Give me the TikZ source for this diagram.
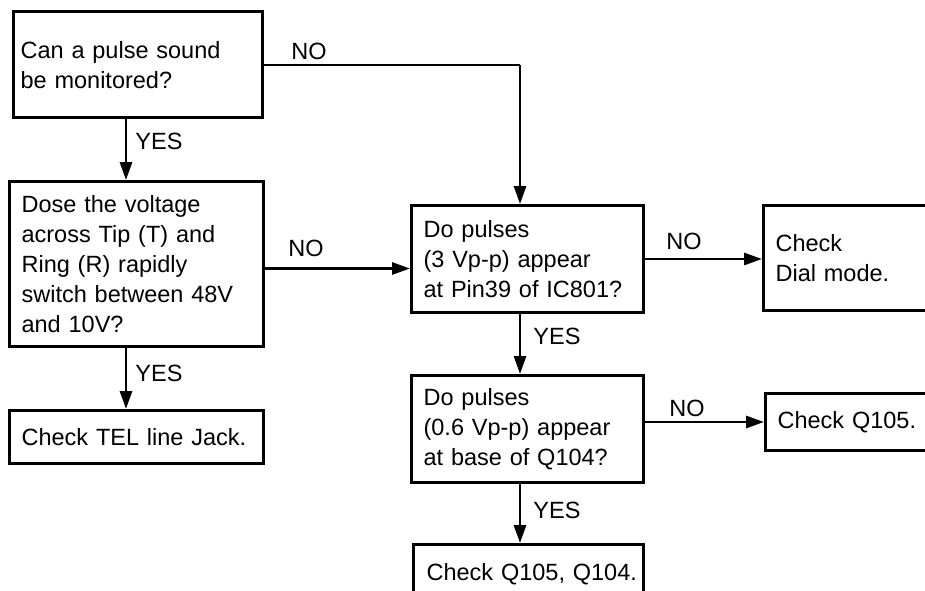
\documentclass[tikz,border=0pt]{standalone}
\usepackage{fontspec}
\setmainfont{Liberation Sans}
\usetikzlibrary{arrows.meta}
\begin{document}
\begin{tikzpicture}[x=1pt,y=-1pt,
  box/.style={draw, line width=3.2pt, align=left, anchor=north west, inner xsep=12pt, inner ysep=0pt, font=\fontsize{23.5}{30}\selectfont},
  lbl/.style={font=\fontsize{23.5}{30}\selectfont, inner sep=0pt},
  arr/.style={line width=2.9pt, -{Triangle[length=18pt,width=12pt]}},
  ln/.style={line width=2.9pt}]
\useasboundingbox (0,0) rectangle (925,590);
% boxes
\node[box, text width=235pt, inner xsep=7pt, minimum height=106pt] (B1) at (12,10) {Can a pulse sound\\be monitored?};
\node[box, text width=230pt, minimum height=165pt] (B2) at (8,180) {Dose the voltage\\across Tip (T) and\\Ring (R) rapidly\\switch between 48V\\and 10V?};
\node[box, text width=230pt, minimum height=53pt] (B3) at (8,409) {Check TEL line Jack.};
\node[box, text width=208pt, minimum height=107pt] (C1) at (410,204) {Do pulses\\(3 Vp-p) appear\\at Pin39 of IC801?};
\node[box, text width=156pt, minimum height=105pt] (D1) at (762,204) {Check\\Dial mode.};
\node[box, text width=208pt, minimum height=107pt] (C2) at (410,374) {Do pulses\\(0.6 Vp-p) appear\\at base of Q104?};
\node[box, text width=156pt, minimum height=57pt] (D2) at (764,392) {Check Q105.};
\node[box, text width=216pt, inner xsep=7pt, minimum height=60pt] (C3) at (412,543) {\hspace*{6pt}\mbox{Check Q105, Q104.}};
% helper coordinates
\coordinate (lx) at (126,0);
\coordinate (cx) at (520,0);
\coordinate (y1) at (0,65);
\coordinate (y2) at (0,268.5);
\coordinate (y3) at (0,259);
\coordinate (y4) at (0,422);
\coordinate (turn) at (cx |- y1);
% connectors
\draw[ln] (B1.east |- y1) -- (turn);
\draw[arr] (turn) -- (C1.north -| cx);
\draw[arr] (B1.south -| lx) -- (B2.north -| lx);
\draw[arr] (B2.south -| lx) -- (B3.north -| lx);
\draw[arr] (B2.east |- y2) -- (C1.west |- y2);
\draw[arr] (C1.east |- y3) -- (D1.west |- y3);
\draw[arr] (C1.south -| cx) -- (C2.north -| cx);
\draw[arr] (C2.east |- y4) -- (D2.west |- y4);
\draw[arr] (C2.south -| cx) -- (C3.north -| cx);
% labels
\node[lbl] (n1) at (309,51) {NO};
\node[lbl] (yv1) at (159,141) {YES};
\node[lbl] (n2) at (306,248) {NO};
\node[lbl] (yv2) at (159,373) {YES};
\node[lbl] (n3) at (684,241) {NO};
\node[lbl] (yv3) at (557,336) {YES};
\node[lbl] (n4) at (687,408) {NO};
\node[lbl] (yv4) at (557,510) {YES};
\end{tikzpicture}
\end{document}
